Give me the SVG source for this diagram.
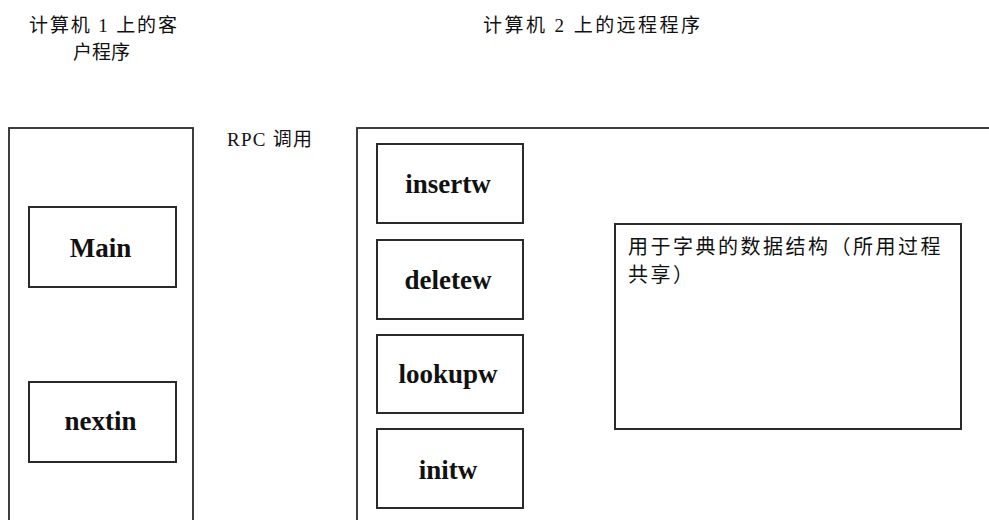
<svg xmlns="http://www.w3.org/2000/svg" width="989" height="520" viewBox="0 0 989 520">
<style>
.outer{fill:none;stroke:#2a2a2a;stroke-width:1.8}
.box{fill:#fff;stroke:#2a2a2a;stroke-width:2}
.lbl{font-family:"Liberation Serif","Times New Roman",serif;font-weight:bold;font-size:27px;fill:#111;text-anchor:middle}
.cn{font-family:"Liberation Serif","Noto Sans CJK SC",sans-serif;font-size:19px;fill:#111}
.ds{font-family:"Noto Sans CJK SC",sans-serif;font-size:20px;fill:#111;letter-spacing:2.5px}
</style>
<rect width="989" height="520" fill="#fff"/>
<g id="computer1">
<rect class="outer" x="9" y="128" width="184" height="420"/>
<text class="cn" x="103" y="32" text-anchor="middle" textLength="148" lengthAdjust="spacing">计算机 1 上的客</text>
<text class="cn" x="101.5" y="59" text-anchor="middle" textLength="57" lengthAdjust="spacing">户程序</text>
</g>
<g id="computer2">
<rect class="outer" x="357" y="128" width="700" height="420"/>
<text class="cn" x="591.5" y="32" text-anchor="middle" textLength="217" lengthAdjust="spacing">计算机 2 上的远程程序</text>
</g>
<g id="main">
<rect class="box" x="29" y="207" width="147" height="80"/>
<text class="lbl" x="100.5" y="257">Main</text>
</g>
<g id="nextin">
<rect class="box" x="29" y="382" width="147" height="80"/>
<text class="lbl" x="100.5" y="430">nextin</text>
</g>
<g id="insertw">
<rect class="box" x="377" y="144" width="146" height="79"/>
<text class="lbl" x="448" y="193">insertw</text>
</g>
<g id="deletew">
<rect class="box" x="377" y="240" width="146" height="79"/>
<text class="lbl" x="448" y="289">deletew</text>
</g>
<g id="lookupw">
<rect class="box" x="377" y="335" width="146" height="78"/>
<text class="lbl" x="448" y="383">lookupw</text>
</g>
<g id="initw">
<rect class="box" x="377" y="429" width="146" height="79"/>
<text class="lbl" x="448" y="479">initw</text>
</g>
<g id="datastructure">
<rect class="box" x="615" y="224" width="346" height="205"/>
<text class="ds" x="628" y="254">用于字典的数据结构（所用过程</text>
<text class="ds" x="628" y="282">共享）</text>
</g>
<g id="connectors">
<text class="cn" x="227" y="146" textLength="85" lengthAdjust="spacing">RPC 调用</text>
</g>
</svg>
